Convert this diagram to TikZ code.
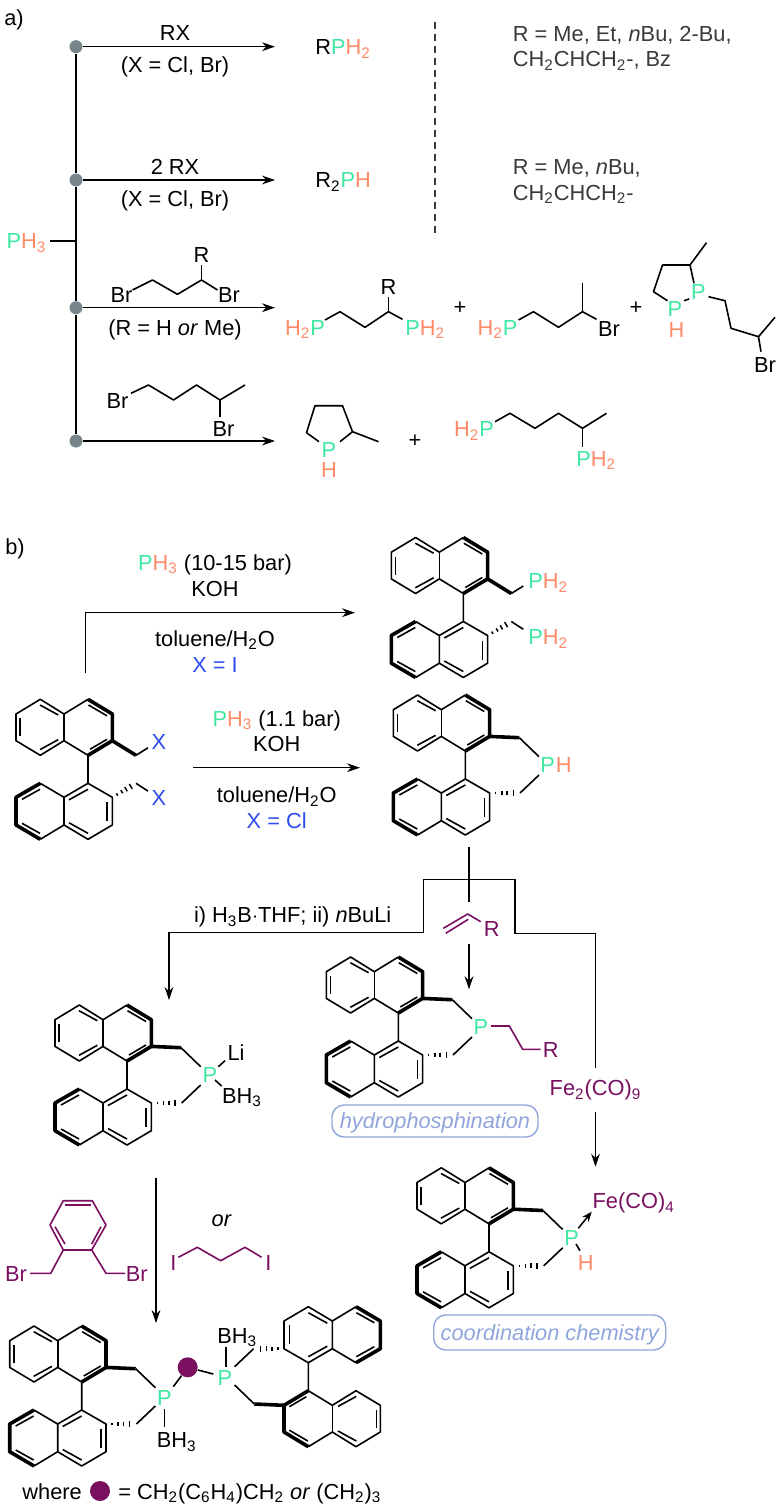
\documentclass[tikz,border=0pt]{standalone}
\usepackage{fontspec}
\setmainfont{Liberation Sans}
\usetikzlibrary{positioning,calc,arrows.meta}
\definecolor{phosgreen}{HTML}{3FE8A2}
\definecolor{hydorange}{HTML}{FF8A68}
\definecolor{xblue}{HTML}{2E4BEE}
\definecolor{chainpurple}{HTML}{7A0F60}
\definecolor{dotgrey}{HTML}{76868A}
\definecolor{boxblue}{HTML}{8FA5DC}
\definecolor{notegrey}{HTML}{3A3A3A}

\newcommand{\phos}{\textcolor{phosgreen}{P}}
\newcommand{\hyd}[1]{\textcolor{hydorange}{#1}}
\newcommand{\tsub}[1]{\textsubscript{#1}}

\tikzset{
  lab/.style={inner sep=0pt,text height=7.8pt,text depth=0pt,font=\fontsize{10.9}{12}\selectfont},
  note/.style={lab,anchor=west,text=notegrey},
  purplelab/.style={lab,text=chainpurple},
  bluelab/.style={lab,text=xblue},
  bond/.style={line width=0.8pt,line join=round},
  boldbond/.style={line width=1.8pt,line join=round},
  chainbond/.style={bond,draw=chainpurple},
  conn/.style={line width=0.75pt,line join=miter},
  rxn/.style={conn,-{Stealth[length=6.5pt,width=4.4pt]}},
  branchdot/.style={circle,fill=dotgrey,inner sep=0pt,minimum size=6.5pt},
  linkdot/.style={circle,fill=chainpurple,inner sep=0pt,minimum size=10pt},
  tagbox/.style={lab,draw=boxblue,text=boxblue,line width=0.7pt,rounded corners=6pt,font=\fontsize{10.9}{12}\selectfont\itshape},
}

% core of the two naphthyl units, centred on the biaryl bond
\newcommand{\binap}[3]{
  \begin{scope}[shift={(#1,#2)},rotate=#3]
    \draw[bond] (0,-14) -- (-24,-28.6) -- (-47.7,-14) -- (-72,-28.6) -- (-72,-55.3) -- (-47.7,-70) -- (-24,-55.3) -- (0,-70);
    \draw[bond] (-24,-28.6) -- (-24,-55.3);
    \draw[bond] (0,-14) -- (0,14) -- (-24,28) -- (-47.7,14);
    \draw[bond] (-24,28) -- (-24,55.7) -- (0,70) -- (24.3,55.7) -- (24.3,28) -- (0,14);
    \draw[bond] (-24,55.7) -- (-47.7,70);
    \draw[boldbond] (0,-70) -- (24.3,-55.3) -- (24.3,-28.6) -- (0,-14);
    \draw[boldbond] (-47.7,14) -- (-72,28) -- (-72,55.7) -- (-47.7,70);
    % inner lines of the double bonds
    \draw[bond] (-68,-51) -- (-68,-33);
    \draw[bond] (-48,-64.3) -- (-29.7,-54.3);
    \draw[bond] (-48,-19.7) -- (-29.7,-29.7);
    \draw[bond] (0.5,-64.3) -- (19,-53.5);
    \draw[bond] (2,-20) -- (19,-30);
    \draw[bond] (-48,20) -- (-66,30);
    \draw[bond] (-66,54) -- (-48,64);
    \draw[bond] (0,20) -- (-19,30.5);
    \draw[bond] (19,33) -- (19,52);
    \draw[bond] (0,64) -- (-19,53.5);
  \end{scope}
}
% short strokes of a hashed bond
\newcommand{\hashbond}[2]{
  \foreach \t/\h in {0.2/0.65pt,0.4/0.9pt,0.58/1.2pt,0.78/1.45pt}
    \draw[line width=0.75pt] ($(#1)!\t!(#2)!\h!90:(#2)$) -- ($(#1)!\t!(#2)!\h!-90:(#2)$);
}
% CH2 arms that end on the P of the ring
\newcommand{\ringarms}[3]{
  \begin{scope}[shift={(#1,#2)},rotate=#3]
    \draw[boldbond] (24.3,-28.6) -- (54,-27.3);
    \draw[bond] (54,-27.3) -- (73.7,-8.3);
    \coordinate (hs) at (24.3,28);
    \coordinate (he) at (54.7,28);
    \hashbond{hs}{he}
    \draw[bond] (54.7,28) -- (73.7,10);
  \end{scope}
}
% CH2 arms that end on two separate groups
\newcommand{\openarms}[2]{
  \begin{scope}[shift={(#1,#2)}]
    \draw[boldbond] (24.3,-28.6) -- (48,-14);
    \draw[bond] (48,-14) -- (60,-21.5);
    \coordinate (hs) at (24.3,28);
    \coordinate (he) at (48,14);
    \hashbond{hs}{he}
    \draw[bond] (48,14) -- (60,21.8);
  \end{scope}
}

\begin{document}
\begin{tikzpicture}[x=0.5pt,y=-0.5pt]
  \useasboundingbox (0,0) rectangle (776,1509);

  % Part a
  \node[lab] (parta) at (14,18) {a)};
  \node[branchdot] (d1) at (76,46.7) {};
  \node[branchdot] (d2) at (76,180) {};
  \node[branchdot] (d3) at (76,307.7) {};
  \node[branchdot] (d4) at (76,441) {};
  \node[lab] (pha) at (26.5,241) {\phos\hyd{H\tsub{3}}};
  \coordinate (junc) at (76,241);
  \coordinate (t1) at (275,46.7);
  \coordinate (t2) at (275,180);
  \coordinate (t3) at (275,307.7);
  \coordinate (t4) at (275,441);
  \draw[conn] (d1) -- (d2);
  \draw[conn] (d2) -- (d3);
  \draw[conn] (d3) -- (d4);
  \draw[conn] (pha.east) ++(3,0) -- (junc);
  \draw[rxn] (d1) -- (t1);
  \draw[rxn] (d2) -- (t2);
  \draw[rxn] (d3) -- (t3);
  \draw[rxn] (d4) -- (t4);

  \node[lab] (rxa) at (175,33) {RX};
  \node[lab] (conda) at (175,65) {(X = Cl, Br)};
  \node[lab] (rxb) at (175,166.7) {2 RX};
  \node[lab] (condb) at (175,198.3) {(X = Cl, Br)};
  \node[lab,anchor=west] (proda) at (315,47) {R\phos\hyd{H\tsub{2}}};
  \node[lab,anchor=west] (prodb) at (315,180) {R\tsub{2}\phos\hyd{H}};

  \coordinate (dasha) at (435,22);
  \coordinate (dashb) at (435,238);
  \draw[line width=0.6pt,notegrey,dash pattern=on 3.5pt off 2.5pt] (dasha) -- (dashb);
  \node[note] (notea) at (512.5,34) {R = Me, Et, \textit{n}Bu, 2-Bu,};
  \node[note] (noteb) at (512.5,59) {CH\tsub{2}CHCH\tsub{2}-, Bz};
  \node[note] (notec) at (512.5,167) {R = Me, \textit{n}Bu,};
  \node[note] (noted) at (512.5,192.7) {CH\tsub{2}CHCH\tsub{2}-};

  % dibromide over the third arrow
  \node[lab] (bra) at (121.5,295) {Br};
  \node[lab] (brb) at (229,295) {Br};
  \node[lab] (ra) at (201.5,255) {R};
  \draw[bond] (132.5,290) -- (152.5,280) -- (177.5,294.3) -- (201.5,280) -- (217.5,290);
  \draw[bond] (201.5,280) -- (201.5,265);
  \node[lab] (condc) at (175,327.3) {(R = H \textit{or} Me)};

  % products of the third arrow
  \node[lab] (hpa) at (305,327.3) {\hyd{H\tsub{2}}\phos};
  \node[lab,anchor=west] (hpb) at (405,327.3) {\phos\hyd{H\tsub{2}}};
  \node[lab] (rb) at (388.5,286.7) {R};
  \draw[bond] (325,320) -- (340,311.7) -- (365,327.3) -- (388.5,311.7) -- (402.5,319.3);
  \draw[bond] (388.5,311.7) -- (388.5,296.7);
  \node[lab] (plusa) at (460,306.7) {+};
  \node[lab] (hpc) at (497.5,327.3) {\hyd{H\tsub{2}}\phos};
  \node[lab] (brc) at (609,328.3) {Br};
  \draw[bond] (518.5,320) -- (533.5,311.7) -- (558.5,327.3) -- (582.5,311.7) -- (596.5,319.3);
  \draw[bond] (582.5,311.7) -- (582.5,283.3);
  \node[lab] (plusb) at (636,306.7) {+};
  \node[lab] (pa) at (675,308.3) {\phos};
  \node[lab] (ha) at (676.5,329.3) {\hyd{H}};
  \node[lab] (pb) at (698.5,291.7) {\phos};
  \draw[bond] (667.5,300.7) -- (653.5,291.7) -- (662.5,265) -- (690,265) -- (694,283.3);
  \draw[bond] (690,265) -- (706.5,242.7);
  \draw[bond] (684,300.7) -- (689,299);
  \draw[bond] (708.5,296.7) -- (725,300.7) -- (731,328.3) -- (758.5,336.7) -- (775,317.3);
  \draw[bond] (758.5,336.7) -- (761,351.7);
  \node[lab] (brd) at (765,365) {Br};

  % dibromide over the fourth arrow
  \node[lab] (bre) at (117.5,400.7) {Br};
  \node[lab] (brf) at (223.5,428.3) {Br};
  \draw[bond] (131,393.3) -- (148.5,385) -- (173.5,400) -- (196.5,385) -- (220,400) -- (245,385);
  \draw[bond] (220,400) -- (220,416.7);

  % products of the fourth arrow
  \node[lab] (pc) at (329,449.3) {\phos};
  \node[lab] (hb) at (329,469.3) {\hyd{H}};
  \draw[bond] (319,441.7) -- (306.5,432.7) -- (315,405.7) -- (342.5,405.7) -- (352.5,431.7) -- (340,441.7);
  \draw[bond] (352.5,431.7) -- (378.5,441.7);
  \node[lab] (plusc) at (415,440) {+};
  \node[lab] (hpd) at (474,429) {\hyd{H\tsub{2}}\phos};
  \node[lab,anchor=west] (hpe) at (576,458.3) {\phos\hyd{H\tsub{2}}};
  \draw[bond] (495,421.7) -- (510,413.3) -- (535,428.3) -- (558.5,413.3) -- (582.5,428.3) -- (606.5,413.3);
  \draw[bond] (582.5,428.3) -- (582.5,446.7);

  % Part b
  \node[lab] (partb) at (15,546.7) {b)};

  % starting material
  \binap{88}{769.3}{0}
  \openarms{88}{769.3}
  \node[bluelab] (xa) at (159,742) {X};
  \node[bluelab] (xb) at (159,798) {X};

  % upper route
  \coordinate (sa) at (85.7,672.7);
  \coordinate (ea) at (355,612.7);
  \draw[rxn] (sa) |- (ea);
  \node[lab] (phb) at (215,562.7) {\phos\hyd{H\tsub{3}} (10-15 bar)};
  \node[lab,below=4.7pt of phb] (koha) {KOH};
  \node[lab] (sola) at (215,638.3) {toluene/H\tsub{2}O};
  \node[bluelab,below=5pt of sola] (xc) {X = I};

  % lower route
  \coordinate (sb) at (193.3,767.7);
  \coordinate (eb) at (360,767.7);
  \draw[rxn] (sb) -- (eb);
  \node[lab] (phc) at (276.7,718.3) {\phos\hyd{H\tsub{3}} (1.1 bar)};
  \node[lab,below=4.7pt of phc] (kohb) {KOH};
  \node[lab] (solb) at (276.7,795) {toluene/H\tsub{2}O};
  \node[bluelab,below=4.7pt of solb] (xd) {X = Cl};

  % open diphosphine
  \binap{463.3}{607.5}{0}
  \openarms{463.3}{607.5}
  \node[lab,anchor=west] (pd) at (528,581) {\phos\hyd{H\tsub{2}}};
  \node[lab,anchor=west] (pe) at (528,637) {\phos\hyd{H\tsub{2}}};

  % cyclic phosphine
  \binap{465.3}{765}{0}
  \ringarms{465.3}{765}{0}
  \node[lab] (pf) at (547.7,765) {\phos};
  \node[lab,right=0pt of pf] (hc) {\hyd{H}};

  % three routes from the cyclic phosphine
  \coordinate (topb) at (469,846.7);
  \coordinate (midb) at (469,901.7);
  \coordinate (bl) at (423.3,879.3);
  \coordinate (br) at (515,879.3);
  \coordinate (bla) at (423.3,932.7);
  \coordinate (blb) at (169,932.7);
  \coordinate (blc) at (169,1000);
  \coordinate (bra2) at (515,933.3);
  \coordinate (brb2) at (595.5,933.3);
  \coordinate (brc2) at (595.5,1068);
  \coordinate (brd2) at (595.5,1111.7);
  \coordinate (bre2) at (595.5,1166.7);
  \coordinate (alka) at (469,944);
  \coordinate (alkb) at (469,989.3);
  \draw[conn] (topb) -- (midb);
  \draw[conn] (bl) -- (br);
  \draw[rxn] (bl) -- (bla) -- (blb) -- (blc);
  \draw[conn] (br) -- (bra2) -- (brb2) -- (brc2);
  \draw[rxn] (brd2) -- (bre2);
  \draw[rxn] (alka) -- (alkb);
  \node[lab] (steps) at (292.7,915) {i) H\tsub{3}B$\cdot$THF; ii) \textit{n}BuLi};
  \draw[chainbond] (443.3,928.3) -- (467.7,914) -- (480.7,921.7);
  \draw[chainbond] (445.7,933.3) -- (468.3,919.3);
  \node[purplelab] (rc) at (491.7,929) {R};
  \node[purplelab] (feco) at (595.5,1088) {Fe\tsub{2}(CO)\tsub{9}};

  % lithium phosphide
  \binap{127}{1075}{0}
  \ringarms{127}{1075}{0}
  \node[lab] (pg) at (210,1075) {\phos};
  \node[lab] (lia) at (236,1053) {Li};
  \node[lab] (bha) at (242,1095.7) {BH\tsub{3}};
  \draw[bond] (218.3,1066.7) -- (225,1060.7);
  \draw[bond] (215,1080) -- (221.7,1086);

  % hydrophosphination product
  \binap{398.3}{1027}{0}
  \ringarms{398.3}{1027}{0}
  \node[lab] (ph) at (481,1027) {\phos};
  \draw[chainbond] (491,1026) -- (509.3,1026) -- (522.7,1049.3) -- (540.7,1049.3);
  \node[purplelab] (rd) at (550.7,1050) {R};
  \node[tagbox,minimum width=103pt,minimum height=16pt] (hydbox) at (435,1121) {hydrophosphination};

  % iron complex
  \binap{489}{1237.8}{0}
  \ringarms{489}{1237.8}{0}
  \node[lab] (pi) at (571.7,1238) {\phos};
  \node[lab] (hd) at (585.7,1262.7) {\hyd{H}};
  \node[purplelab] (fecob) at (633.7,1201) {Fe(CO)\tsub{4}};
  \draw[bond] (576,1244) -- (580,1250.7);
  \draw[line width=0.75pt,-{Stealth[length=5pt,width=4pt]}] (578.3,1228.3) -- (591.7,1211.7);
  \node[tagbox,minimum width=116pt,minimum height=17.5pt] (cobox) at (549.7,1332.5) {coordination chemistry};

  % bridging reagents
  \coordinate (downa) at (156,1178);
  \coordinate (downb) at (156,1323);
  \draw[rxn] (downa) -- (downb);
  \draw[chainbond] (63.3,1200.7) -- (92.3,1200.7) -- (106,1225) -- (91.7,1250) -- (63.3,1250) -- (50,1225) -- cycle;
  \draw[chainbond] (65,1205) -- (90.7,1205);
  \draw[chainbond] (55,1226.7) -- (65,1244);
  \draw[chainbond] (101,1226.7) -- (91.7,1244);
  \draw[chainbond] (63.3,1250) -- (50.7,1273.3) -- (30,1273.3);
  \draw[chainbond] (91.7,1250) -- (106,1273.3) -- (125,1273.3);
  \node[purplelab] (brg) at (16,1274) {Br};
  \node[purplelab] (brh) at (136.7,1274) {Br};
  \node[lab] (orword) at (221.7,1218.3) {\textit{or}};
  \node[purplelab] (ia) at (173.3,1262.3) {I};
  \node[purplelab] (ib) at (268.3,1262.3) {I};
  \draw[chainbond] (178.3,1257.3) -- (197.3,1247.3) -- (220.7,1260.7) -- (245,1247.3) -- (261.7,1257.3);

  % bridged bis(phosphine)
  \binap{81.7}{1396}{0}
  \ringarms{81.7}{1396}{0}
  \binap{308.3}{1376.7}{180}
  \ringarms{308.3}{1376.7}{180}
  \node[lab] (pj) at (164.3,1397.3) {\phos};
  \node[lab] (pk) at (225,1377.3) {\phos};
  \node[linkdot] (link) at (187.7,1367.3) {};
  \coordinate (la) at (173.3,1386.7);
  \coordinate (lb) at (213.3,1374);
  \draw[bond] (la) -- (link);
  \draw[bond] (link) -- (lb);
  \draw[bond] (164.3,1409.3) -- (164.3,1426.7);
  \draw[bond] (226,1346.7) -- (226,1366.7);
  \node[lab] (bhb) at (176.7,1440) {BH\tsub{3}};
  \node[lab] (bhc) at (237.3,1335.7) {BH\tsub{3}};

  % legend
  \node[lab,anchor=west] (wherew) at (22,1491.7) {where};
  \node[linkdot] (legend) at (100,1491) {};
  \node[lab,anchor=west] (legendt) at (118,1491.7) {= CH\tsub{2}(C\tsub{6}H\tsub{4})CH\tsub{2} \textit{or} (CH\tsub{2})\tsub{3}};
\end{tikzpicture}
\end{document}
